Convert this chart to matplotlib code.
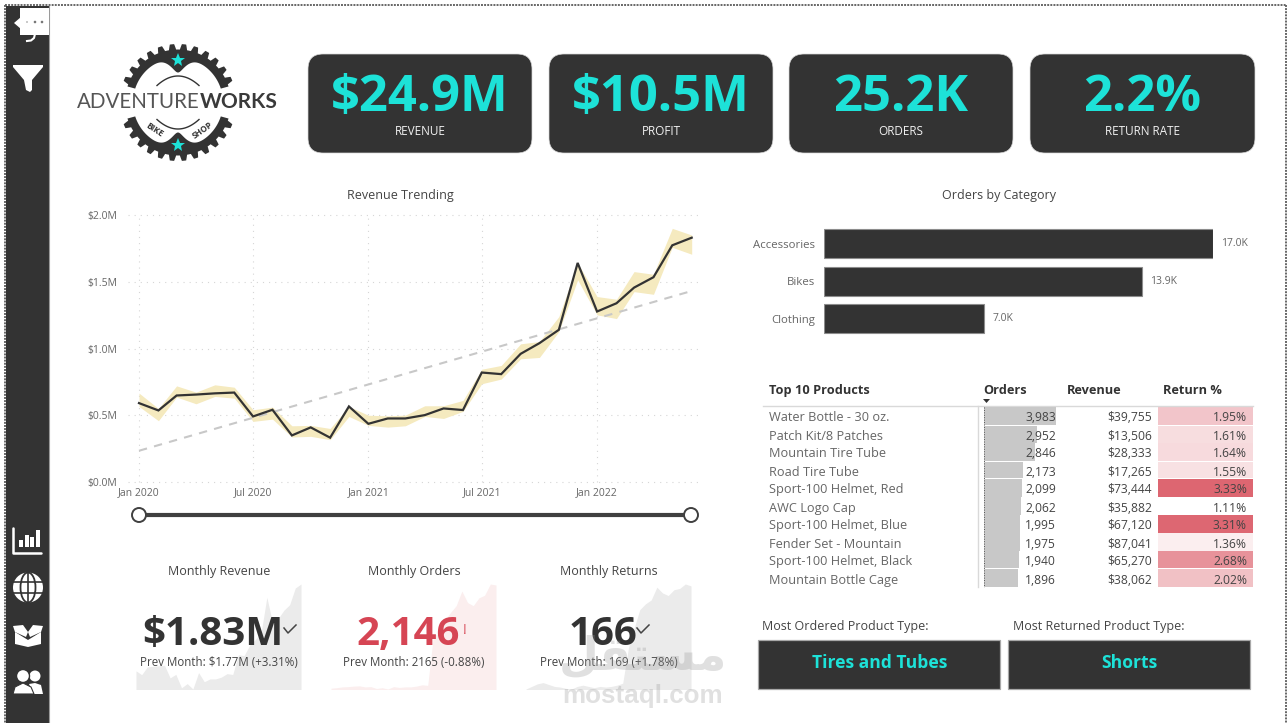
#import libraries

import numpy as np
import pandas as pd
import matplotlib
matplotlib.use("Agg")
import matplotlib.pyplot as plt
import matplotlib.dates as mdates
from matplotlib.colors import LinearSegmentedColormap, Normalize
from matplotlib.patches import FancyBboxPatch, Rectangle, Circle, Polygon, Ellipse

plt.rcParams["font.family"] = ["Open Sans", "DejaVu Sans"]

W, H = 1288, 723
DARK = "#333333"
TEAL = "#1de2d8"
RED = "#d64554"

#%% data

kpi_values = ["$24.9M", "$10.5M", "25.2K", "2.2%"]
kpi_labels = ["REVENUE", "PROFIT", "ORDERS", "RETURN RATE"]

revenue = [0.591, 0.536, 0.648, 0.655, 0.664, 0.670, 0.491, 0.541, 0.349, 0.409,
           0.332, 0.566, 0.436, 0.476, 0.476, 0.501, 0.551, 0.539, 0.820, 0.808,
           0.960, 1.040, 1.140, 1.641, 1.277, 1.339, 1.456, 1.534, 1.773, 1.830]
band_upper = [0.666, 0.550, 0.720, 0.673, 0.728, 0.710, 0.541, 0.561, 0.421, 0.424,
              0.401, 0.566, 0.500, 0.496, 0.501, 0.571, 0.571, 0.611, 0.845, 0.873,
              1.035, 1.052, 1.239, 1.641, 1.389, 1.369, 1.576, 1.556, 1.900, 1.850]
band_lower = [0.566, 0.459, 0.636, 0.586, 0.641, 0.628, 0.454, 0.471, 0.337, 0.342,
              0.317, 0.491, 0.424, 0.411, 0.421, 0.491, 0.476, 0.529, 0.736, 0.771,
              0.923, 0.933, 1.127, 1.514, 1.252, 1.224, 1.426, 1.406, 1.758, 1.706]
trend_ends = [0.234, 1.431]

y_ticks = [0.0, 0.5, 1.0, 1.5, 2.0]
y_tick_labels = ["$0.0M", "$0.5M", "$1.0M", "$1.5M", "$2.0M"]
x_tick_months = ["2020-01", "2020-07", "2021-01", "2021-07", "2022-01"]
x_tick_labels = ["Jan 2020", "Jul 2020", "Jan 2021", "Jul 2021", "Jan 2022"]

categories = ["Accessories", "Bikes", "Clothing"]
category_orders = [17000, 13900, 7000]
category_labels = ["17.0K", "13.9K", "7.0K"]

products = ["Water Bottle - 30 oz.", "Patch Kit/8 Patches", "Mountain Tire Tube",
            "Road Tire Tube", "Sport-100 Helmet, Red", "AWC Logo Cap",
            "Sport-100 Helmet, Blue", "Fender Set - Mountain",
            "Sport-100 Helmet, Black", "Mountain Bottle Cage"]
product_orders = [3983, 2952, 2846, 2173, 2099, 2062, 1995, 1975, 1940, 1896]
product_revenue = [39755, 13506, 28333, 17265, 73444, 35882, 67120, 87041, 65270, 38062]
product_returns = [1.95, 1.61, 1.64, 1.55, 3.33, 1.11, 3.31, 1.36, 2.68, 2.02]

monthly_orders = [170, 180, 195, 200, 210, 215, 195, 200, 165, 180, 155, 200, 185, 195, 195,
                  210, 235, 225, 1180, 1210, 1464, 1620, 1750, 2030, 1810, 1750, 1900, 1950,
                  2165, 2146]
monthly_returns = [5, 9, 13, 15, 12, 9, 8, 6, 5, 9, 11, 9, 7, 9, 8, 9, 11, 14, 69, 100,
                   129, 138, 144, 164, 155, 151, 160, 162, 169, 166]

months = pd.date_range("2020-01-01", periods=len(revenue), freq="MS")

#%% page, everything that is not a chart is placed in pixels on this axes

fig = plt.figure(figsize=(W / 100, H / 100), dpi=100, facecolor="white")


def layer(z):
    ax = fig.add_axes([0, 0, 1, 1], zorder=z)
    ax.set_xlim(0, W)
    ax.set_ylim(H, 0)
    ax.axis("off")
    return ax


page = layer(0)
top = layer(5)   # text that sits above the bars and sparklines
wm = layer(6)    # watermark


def pixel_axes(x0, y0, x1, y1):
    ax = fig.add_axes([x0 / W, 1 - y1 / H, (x1 - x0) / W, (y1 - y0) / H], zorder=1)
    ax.patch.set_alpha(0)
    return ax


def label(x, y, s, size=9, color="#444444", ha="center", weight="normal", on=None, **kw):
    # Open Sans sits a little high with va=center, so push it down by a share of the size
    on = on if on is not None else top
    return on.text(x, y + size * 0.15, s, fontsize=size, color=color, ha=ha, va="center", weight=weight, **kw)


# dotted frame of the screenshot
dotted = (0, (1, 0.6))
page.plot([5, 1286], [5, 5], color="#666666", lw=1.4, ls=dotted)
page.plot([5, 5], [5, H], color="#666666", lw=1.4, ls=dotted)
page.plot([1286, 1286], [5, H], color="#666666", lw=1.4, ls=dotted)

#%% sidebar

page.add_patch(Rectangle((6, 6), 43, H - 6, color=DARK, lw=0))
page.plot([49.5, 49.5], [6, H], color="#9a9a9a", lw=0.8)
page.add_patch(Rectangle((20, 8), 29, 27, color="white", lw=0, zorder=3))
page.add_patch(Polygon([[14, 23], [21, 17], [21, 29]], color="white", lw=0, zorder=3))
for dx, r in zip([27, 35, 42], [0.7, 1.3, 1.3]):
    page.add_patch(Circle((dx, 22), r, color="#777777", lw=0, zorder=4))
page.plot([27, 31, 34, 35], [41, 40.5, 38, 34], color="white", lw=1.5, zorder=2)

page.add_patch(Polygon([[13, 65], [43, 65], [43, 67], [32, 80], [32, 90], [30, 92], [26, 90], [24, 80], [13, 67]],
                       color="white", lw=0))

# report icon
page.plot([13, 13, 41], [528, 553, 553], color="white", lw=1.8, solid_capstyle="round")
for bx, bar_top in zip([19, 25, 30, 36], [540, 535, 537, 530]):
    page.add_patch(Rectangle((bx, bar_top), 4, 547 - bar_top, color="white", lw=0))

# globe icon
page.add_patch(Circle((28, 587.5), 15, color="white", lw=0))
page.add_patch(Ellipse((28, 587.5), 15, 30, fc="none", ec=DARK, lw=1.3))
page.plot([28, 28], [572, 603], color=DARK, lw=1.2)
page.plot([13, 43], [582, 582], color=DARK, lw=1.2)
page.plot([13, 43], [593, 593], color=DARK, lw=1.2)

# box icon
page.add_patch(Polygon([[15, 632], [28, 640], [41, 632], [41, 644], [28, 647], [15, 644]], color="white", lw=0))
page.add_patch(Polygon([[13, 626], [23, 625], [28, 632], [26, 637], [15, 632]], color="white", lw=0))
page.add_patch(Polygon([[43, 626], [33, 625], [28, 632], [30, 637], [41, 632]], color="white", lw=0))

# people icon
page.add_patch(Circle((35, 676), 5.5, color="white", lw=0))
page.add_patch(Polygon([[29, 684], [35, 683], [41, 685], [43, 694], [33, 694]], color="white", lw=0))
page.add_patch(Circle((23, 676), 6.5, ec=DARK, fc="white", lw=1))
page.add_patch(Polygon([[13, 694], [15, 687], [23, 683], [31, 687], [34, 694]], ec=DARK, fc="white", lw=0.8))

#%% logo

cx, cy = 178, 102.5
theta_deg = np.linspace(17.6, 162.4, 721)
theta = np.radians(theta_deg)
tooth = 0.5 + 0.5 * np.sign(np.sin(np.radians(theta_deg * 30 + 90)))
outer_r = 53 + 5.5 * np.convolve(np.r_[tooth[:4], tooth, tooth[-4:]], np.ones(9) / 9, mode="valid")
inner_deg = np.linspace(162, 18, 300)
inner_r = 45 - 15 * np.exp(-((inner_deg - 90) / 15) ** 2)
inner_t = np.radians(inner_deg)
for sign in [-1, 1]:
    xs = np.r_[cx + outer_r * np.cos(theta), cx + inner_r * np.cos(inner_t)]
    ys = np.r_[cy + sign * outer_r * np.sin(theta), cy + sign * inner_r * np.sin(inner_t)]
    page.add_patch(Polygon(np.c_[xs, ys], color=DARK, lw=0))
    arc_x = np.linspace(157, 199, 40)
    page.plot(arc_x, cy + sign * (17 + 9.5 * (1 - ((arc_x - 178) / 21) ** 2)), color=DARK, lw=1)
    page.plot(178, cy + sign * 42.5, marker="*", ms=10, color=TEAL, mew=0, zorder=3)

page.text(200, 102, "ADVENTURE", family="Lato", fontsize=14.8, color="#555555", ha="right", va="center")
page.text(200, 102, "WORKS", family="Lato", weight="bold", fontsize=15, color="#3a3a3a", ha="left", va="center")
page.text(154, 130, "BIKE", fontsize=6, weight="bold", color=DARK, rotation=-33, ha="center", va="center")
page.text(202, 130, "SHOP", fontsize=6, weight="bold", color=DARK, rotation=35, ha="center", va="center")

#%% kpi cards

card_x = [(308, 532), (549, 773), (789, 1013), (1030, 1255)]
for (x0, x1), val, lab in zip(card_x, kpi_values, kpi_labels):
    page.add_patch(FancyBboxPatch((x0 + 15, 54 + 15), x1 - x0 - 30, 99 - 30,
                                  boxstyle="round,pad=15,rounding_size=15", fc=DARK, ec="#d8d8d8", lw=0.5))
    label((x0 + x1) / 2, 93, val, size=36.5, color=TEAL, weight="bold")
    label((x0 + x1) / 2, 130, lab, size=8.5, color="#f2f2f2")

#%% revenue trending

label(400, 194, "Revenue Trending")

days = mdates.date2num(months)
px_per_day = (691.7 - 139) / (days[-1] - days[0])
ax = pixel_axes(128, 215, 698, 482)
ax.set_xlim(days[0] - 11 / px_per_day, days[-1] + 6.3 / px_per_day)
ax.set_ylim(0, 2.0)
ax.fill_between(days, band_lower, band_upper, color="#f5eabf", lw=0)
ax.plot([days[0], days[-1]], trend_ends, color="#c8c8c8", lw=1.5, ls=(0, (4, 3.5)))
ax.plot(days, revenue, color=DARK, lw=1.6, solid_joinstyle="miter")
ax.set_yticks(y_ticks, y_tick_labels)
ax.set_xticks(mdates.date2num(pd.to_datetime(x_tick_months)), x_tick_labels)
ax.tick_params(length=0, labelsize=7.5, labelcolor="#666666")
ax.tick_params(axis="y", pad=8)
ax.tick_params(axis="x", pad=3.5)
ax.grid(color="#d6d6d6", lw=0.8, ls=(0, (1, 4.5)), clip_on=False)
ax.set_axisbelow(True)
for s in ax.spines.values():
    s.set_visible(False)

# date slider
page.plot([139, 691], [515, 515], color="#404040", lw=3)
for sx in [139, 691]:
    page.add_patch(Circle((sx, 515), 7, fc="white", ec="#404040", lw=1.4, zorder=3))

#%% orders by category

label(999, 194, "Orders by Category")

ax = pixel_axes(824, 220, 1213, 342)
ax.set_xlim(0, 17000)
ax.set_ylim(342, 220)
cat_y = [243.5, 281, 318.5]
ax.barh(cat_y, category_orders, height=29, color=DARK, edgecolor="#8c8c8c", lw=0.8)
ax.set_yticks(cat_y, categories)
ax.set_xticks([])
ax.tick_params(length=0, labelsize=8.2, labelcolor="#666666", pad=6.5)
for v, y, s in zip(category_orders, cat_y, category_labels):
    ax.annotate(s, (v, y), xytext=(8, 0), textcoords="offset pixels", fontsize=7.5,
                color="#666666", va="center", annotation_clip=False)
for s in ax.spines.values():
    s.set_visible(False)

#%% top 10 products table

row_y = [(407, 425), (426, 443), (443, 461), (462, 478), (479, 497),
         (497, 515), (515, 533), (533, 551), (551, 568), (569, 587)]
row_mid = [416, 435, 452, 471, 488, 507, 524, 543, 560, 579]

for hx, s in zip([769, 983, 1067, 1163], ["Top 10 Products", "Orders", "Revenue", "Return %"]):
    label(hx, 389, s, size=9.2, color=DARK, ha="left", weight="bold")
page.plot([763, 1253], [406, 406], color="#d9d9d9", lw=1)
page.add_patch(Polygon([[983, 399], [990, 399], [986.5, 403]], color=DARK, lw=0))
page.plot([978, 978], [406, 587], color="#d9d9d9", lw=1)

ax = pixel_axes(984, 406, 1056, 588)
ax.set_xlim(0, max(product_orders))
ax.set_ylim(588, 406)
ax.barh([(a + b) / 2 for a, b in row_y], product_orders, height=[b - a for a, b in row_y], color="#c8c8c8", lw=0)
ax.axis("off")
top.plot([984, 984], [407, 587], color="#555555", lw=0.7, ls=(0, (1, 1.5)))

ret_cmap = LinearSegmentedColormap.from_list("ret", ["#ffffff", "#dd6671"])
ret_norm = Normalize(min(product_returns), max(product_returns))
for (a, b), val in zip(row_y, product_returns):
    page.add_patch(Rectangle((1158, a), 95, b - a, color=ret_cmap(ret_norm(val)), lw=0))
for i, y in enumerate(row_mid):
    label(769, y, products[i], size=9.2, color="#666666", ha="left")
    label(1056, y, f"{product_orders[i]:,}", size=8.7, color="#444444", ha="right")
    label(1152, y, f"${product_revenue[i]:,}", size=8.7, color="#444444", ha="right")
    label(1247, y, f"{product_returns[i]:.2f}%", size=8.7, color="#444444", ha="right")

#%% monthly cards with sparklines

spark_x = [(136, 301), (331, 496), (526, 691)]
spark_data = [revenue, monthly_orders, monthly_returns]
spark_colors = ["#ebebeb", "#fbeeee", "#ebebeb"]
for (x0, x1), vals, col in zip(spark_x, spark_data, spark_colors):
    ax = pixel_axes(x0, 584, x1, 689)
    ax.fill_between(np.arange(len(vals)), vals, min(vals) - (max(vals) - min(vals)) * 0.01, color=col, lw=0)
    ax.set_xlim(0, len(vals) - 1)
    ax.set_ylim(min(vals), max(vals))
    ax.axis("off")

titles = ["Monthly Revenue", "Monthly Orders", "Monthly Returns"]
big = ["$1.83M", "2,146", "166"]
big_x = [213, 408, 603]
big_col = [DARK, RED, DARK]
prev = ["Prev Month: $1.77M (+3.31%)", "Prev Month: 2165 (-0.88%)", "Prev Month: 169 (+1.78%)"]
for i, tx in enumerate([219, 414, 609]):
    label(tx, 570, titles[i])
    label(big_x[i], 630, big[i], size=29, weight="bold", color=big_col[i])
    label(tx, 661, prev[i], size=8.3)

for chk in [284, 637]:
    top.plot([chk, chk + 4, chk + 12], [628, 633, 625], color="#444444", lw=1.1)
label(465, 629, "!", size=10, color=RED)

#%% product type boxes

label(762, 625, "Most Ordered Product Type:", ha="left")
label(1013, 625, "Most Returned Product Type:", ha="left")
for x0, x1, s in [(758.5, 1000.5, "Tires and Tubes"), (1008.5, 1250.5, "Shorts")]:
    page.add_patch(Rectangle((x0, 639.5), x1 - x0, 49, fc=DARK, ec="#a8a8a8", lw=0.9))
    label((x0 + x1) / 2, 661, s, size=12.6, color=TEAL, weight="bold")

#%% watermark

wm.text(643, 657, "\ufede\ufed8\ufe98\ufeb4\ufee3", family="DejaVu Sans", weight="bold", fontsize=33,
        color="#9a9a9a", alpha=0.3, ha="center", va="center")
wm.text(643, 696, "mostaql.com", family="Liberation Sans", weight="bold", fontsize=18.7,
        color="#9a9a9a", alpha=0.3, ha="center", va="center")

fig.savefig("out.png", dpi=100)
